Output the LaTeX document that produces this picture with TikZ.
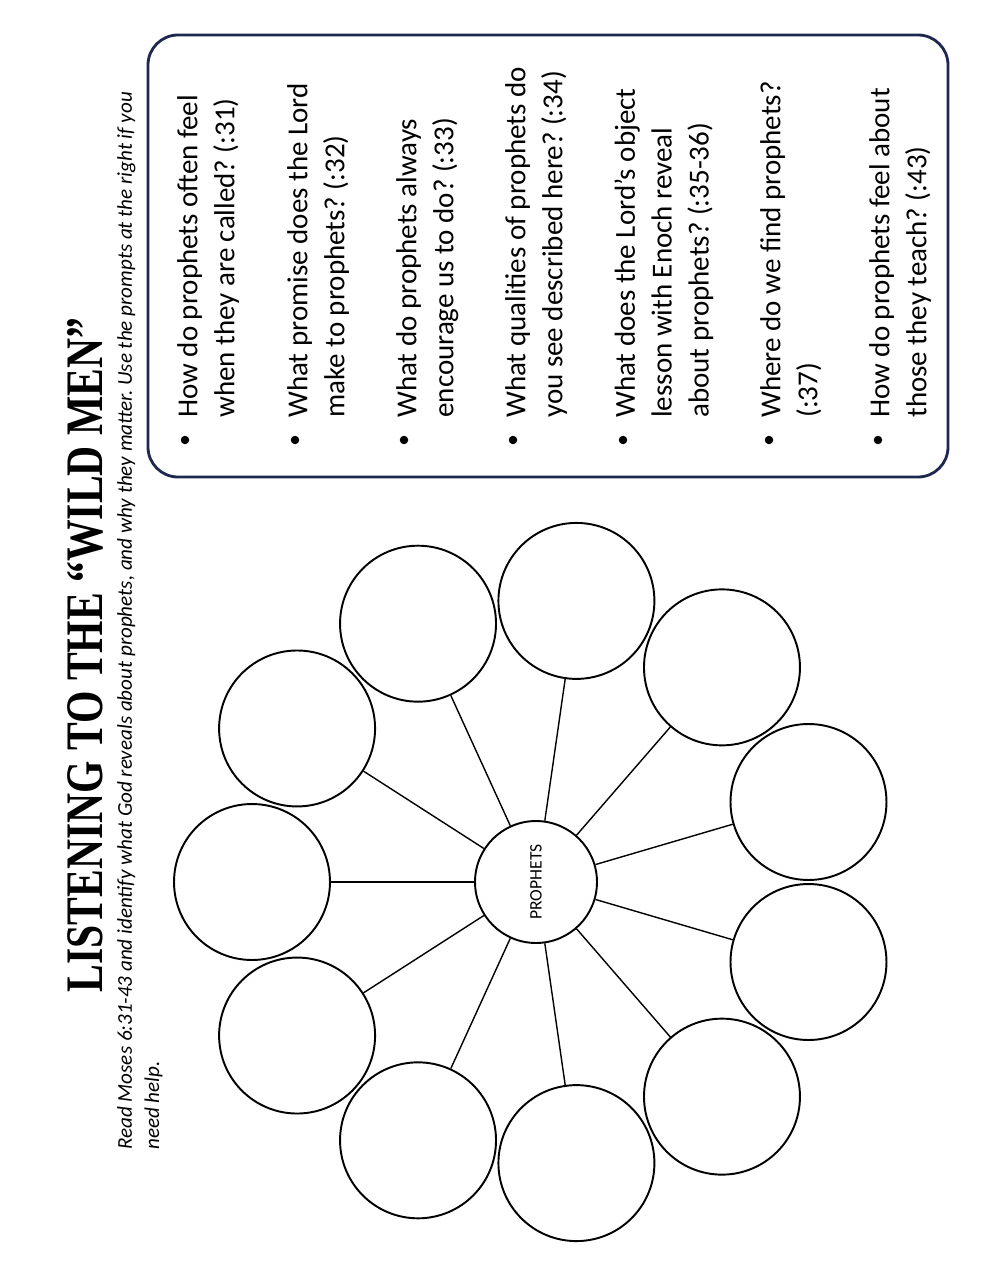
\documentclass[tikz,border=0pt]{standalone}
\usepackage{fontspec}
\setmainfont{Liberation Serif}
\newfontfamily\calibri{Carlito}
\usetikzlibrary{calc}
\definecolor{framenavy}{RGB}{30,40,78}
\frenchspacing

\tikzset{
  petal/.style={draw, circle, line width=1.1pt, minimum size=3.12cm, inner sep=0pt},
  hub/.style={draw, circle, line width=1.1pt, minimum size=2.44cm, inner sep=0pt, rotate=90,
    font=\calibri\fontsize{10}{12}\selectfont},
  spoke/.style={line width=0.8pt},
  prompt/.style={rotate=90, anchor=north west, align=left, inner sep=0pt,
    font=\calibri\fontsize{16.5}{21}\selectfont},
  bulletdot/.style={circle, fill, inner sep=0pt, minimum size=0.17cm},
}

\begin{document}
\begin{tikzpicture}[x=0.02cm, y=-0.02cm]
  \useasboundingbox (0,0) rectangle (980,1270);
  % heading
  \node[rotate=90, font=\bfseries\fontsize{30}{36}\selectfont] (title) at (85,655)
    {\scalebox{0.79}[1]{LISTENING TO THE “WILD MEN”}};
  \node[rotate=90, anchor=north west, align=left, inner sep=0pt,
    font=\calibri\itshape\fontsize{12}{15.4}\selectfont] (intro) at (117,1150)
    {Read Moses 6:31-43 and identify what God reveals about prophets, and why they matter. Use the prompts at the right if you\\need help.};
  %
  % prompt box
  \draw[framenavy, line width=1.6pt, rounded corners=0.6cm] (148,35) rectangle (948,477);
  \node[bulletdot] (b1) at (185,440) {};
  \node[prompt] (q1) at (177,418) {How do prophets often feel\\when they are called? (:31)};
  \node[bulletdot] (b2) at (295,440) {};
  \node[prompt] (q2) at (287,418) {What promise does the Lord\\make to prophets? (:32)};
  \node[bulletdot] (b3) at (404,440) {};
  \node[prompt] (q3) at (396,418) {What do prophets always\\encourage us to do? (:33)};
  \node[bulletdot] (b4) at (513,440) {};
  \node[prompt] (q4) at (505,418) {What qualities of prophets do\\you see described here? (:34)};
  \node[bulletdot] (b5) at (623,440) {};
  \node[prompt] (q5) at (614,418) {What does the Lord’s object\\lesson with Enoch reveal\\about prophets? (:35-36)};
  \node[bulletdot] (b6) at (769,440) {};
  \node[prompt] (q6) at (760,418) {Where do we find prophets?\\(:37)};
  \node[bulletdot] (b7) at (878,440) {};
  \node[prompt] (q7) at (869,418) {How do prophets feel about\\those they teach? (:43)};
  %
  % web of circles
  \node[hub] (prophets) at (536,882) {PROPHETS};
  \foreach \i in {0,...,10} {
    \node[petal] (petal\i) at ($(prophets)+({180+\i*360/11}:284)$) {};
    \draw[spoke] (prophets) -- (petal\i);
  }
\end{tikzpicture}
\end{document}
